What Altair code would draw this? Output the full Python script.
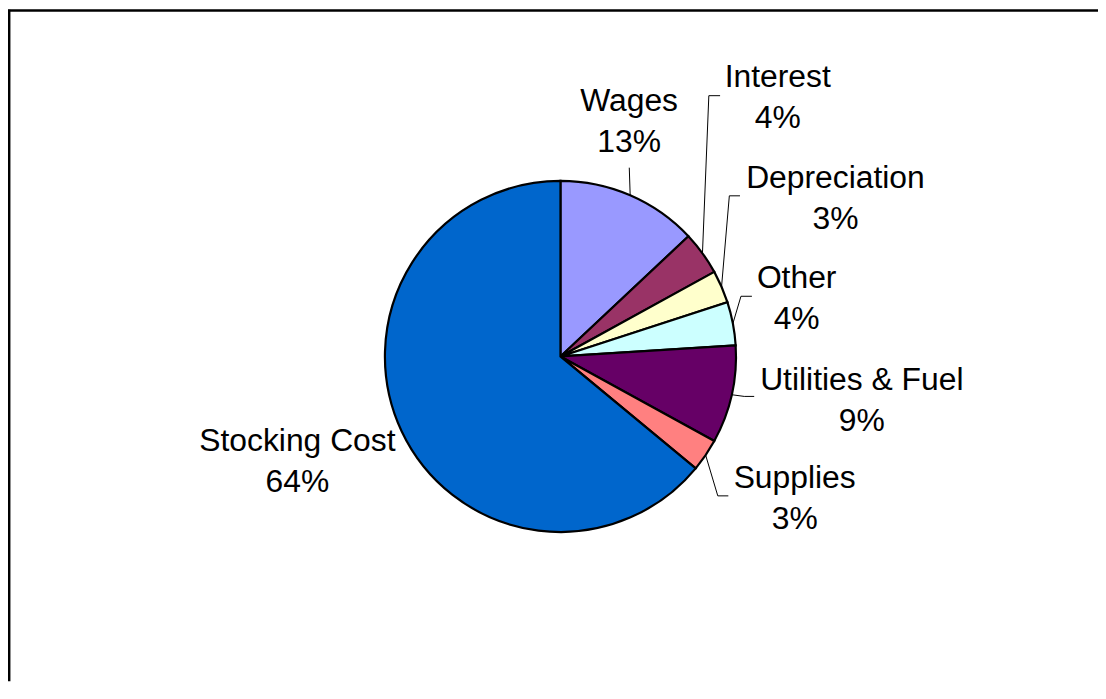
import math
import altair as alt
import pandas as pd

# ---- data ----
categories = ["Wages", "Interest", "Depreciation", "Other",
              "Utilities & Fuel", "Supplies", "Stocking Cost"]
shares = [13, 4, 3, 4, 9, 3, 64]
colors = ["#9999FF", "#993366", "#FFFFCC", "#CCFFFF",
          "#660066", "#FF8080", "#0066CC"]

# ---- layout (pixels, relative to chart origin) ----
W, H = 1096, 675
CX, CY, R = 555.5, 348.5, 176.5
label_x = [624.5, 774, 832, 793, 858.5, 791, 291]
label_y = [102, 78, 179.5, 280, 382, 481, 444]
elbow_pts = [(624.7, 158.7), (704.7, 86.3), (725.3, 187), (737, 288),
             (740.3, 388.7), (713.7, 488.7), None]
end_pts = [(624.7, 158.7), (716, 86.3), (736, 187), (748, 288),
           (750.3, 388.7), (724.3, 488.7), None]

FONT = "Liberation Sans"

pie_df = pd.DataFrame({
    "category": categories,
    "share": shares,
    "idx": list(range(len(categories))),
})

lab_df = pd.DataFrame({
    "category": categories,
    "label": [f"{c}\n{s}%" for c, s in zip(categories, shares)],
    "lx": label_x,
    "ly": label_y,
})

# leader lines: start on the rim at each slice's mid angle
total = sum(shares)
rows = []
cum = 0.0
for cat, s, e1, e2 in zip(categories, shares, elbow_pts, end_pts):
    mid = (cum + s / 2) / total * 2 * math.pi
    cum += s
    if e1 is None:
        continue
    sx = CX + R * math.sin(mid)
    sy = CY - R * math.cos(mid)
    rows += [
        {"category": cat, "step": 0, "px": sx, "py": sy},
        {"category": cat, "step": 1, "px": e1[0], "py": e1[1]},
        {"category": cat, "step": 2, "px": e2[0], "py": e2[1]},
    ]
line_df = pd.DataFrame(rows)

pie = alt.Chart(pie_df).mark_arc(
    outerRadius=R, stroke="black", strokeWidth=2.2
).encode(
    theta=alt.Theta("share:Q", stack=True),
    color=alt.Color("category:N",
                    scale=alt.Scale(domain=categories, range=colors),
                    legend=None),
    order=alt.Order("idx:Q"),
    x=alt.value(CX),
    y=alt.value(CY),
)

leaders = alt.Chart(line_df).mark_line(
    color="black", strokeWidth=1
).encode(
    x=alt.X("px:Q", scale=None),
    y=alt.Y("py:Q", scale=None),
    detail="category:N",
    order="step:Q",
)

labels = alt.Chart(lab_df).mark_text(
    font=FONT, fontSize=32, color="black", align="center",
    baseline="alphabetic", lineBreak="\n", lineHeight=41
).encode(
    x=alt.X("lx:Q", scale=None),
    y=alt.Y("ly:Q", scale=None),
    text="label:N",
)

one = pd.DataFrame({"a": [0]})
frame_left = alt.Chart(one).mark_rule(color="black", strokeWidth=2.5).encode(
    x=alt.value(1.2), y=alt.value(0), y2=alt.value(H)
)
frame_top = alt.Chart(one).mark_rule(color="black", strokeWidth=2.5).encode(
    x=alt.value(0), x2=alt.value(W), y=alt.value(0.6)
)

chart = alt.layer(pie, leaders, labels, frame_left, frame_top).properties(
    width=W, height=H, padding=0,
    autosize=alt.AutoSizeParams(type="none"),
    background="white",
).configure_view(strokeWidth=0)

chart.save("out.html", embed_options={"renderer": "svg", "actions": False})
